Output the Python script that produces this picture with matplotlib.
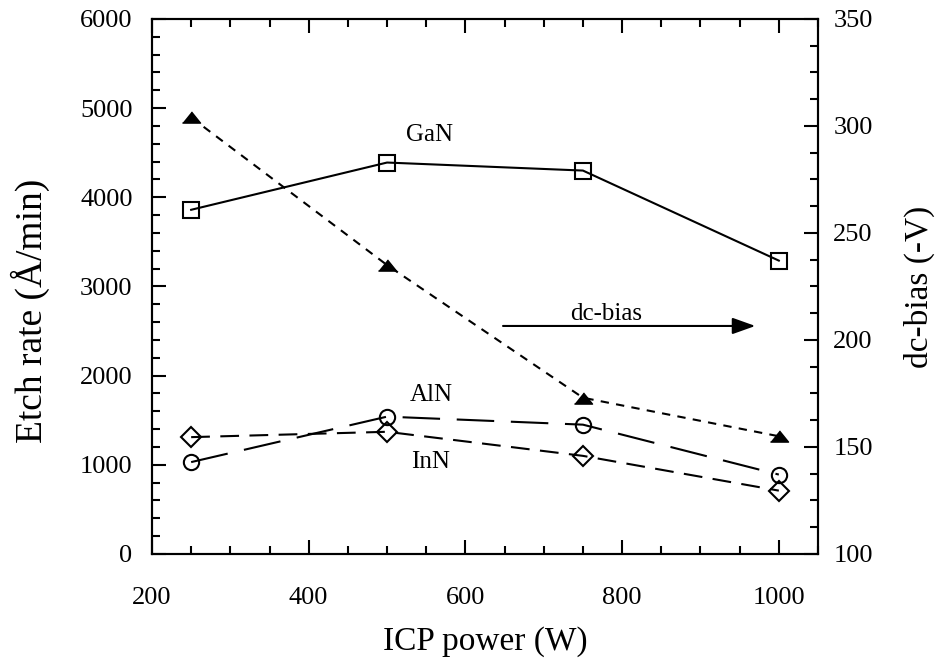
import matplotlib.pyplot as plt
from matplotlib.ticker import MultipleLocator

# ICP power (W) and measured values
power = [250, 500, 750, 1000]
gan = [3860, 4390, 4300, 3290]
aln = [1030, 1540, 1450, 890]
inn = [1310, 1370, 1100, 710]
dc_bias = [304, 235, 173, 155]

plt.rcParams['font.family'] = ['Liberation Serif', 'DejaVu Serif']

fig = plt.figure(figsize=(9.41, 6.69), dpi=100)
ax = fig.add_axes([0.1615, 0.172, 0.7078, 0.7996])
ax2 = ax.twinx()

# flat filled triangle for the dc-bias points
tri = [(-1, -0.62), (1, -0.62), (0, 0.62)]

ax.plot(power, gan, color='k', lw=1.5, marker='s', ms=11, mfc='none', mew=1.5)
ax.plot(power, aln, color='k', lw=1.5, dashes=(18, 8), marker='o', ms=11, mfc='none', mew=1.5)
ax.plot(power, inn, color='k', lw=1.5, dashes=(9, 5), marker='D', ms=10.5, mfc='none', mew=1.5)
ax2.plot(power, dc_bias, color='k', lw=1.5, dashes=(4, 3.5), marker=tri, ms=13, mfc='k', mec='k')

ax.set_xlim(200, 1050)
ax.set_ylim(0, 6000)
ax2.set_ylim(100, 350)

ax.xaxis.set_major_locator(MultipleLocator(200))
ax.xaxis.set_minor_locator(MultipleLocator(50))
ax.yaxis.set_major_locator(MultipleLocator(1000))
ax.yaxis.set_minor_locator(MultipleLocator(200))
ax2.yaxis.set_major_locator(MultipleLocator(50))
ax2.yaxis.set_minor_locator(MultipleLocator(12.5))

ax.tick_params(which='both', direction='in', top=True, right=False, width=1.5, labelsize=19)
ax.tick_params(which='major', length=10)
ax.tick_params(which='minor', length=6)
ax.tick_params(axis='x', pad=24)
ax.tick_params(axis='y', pad=14)
ax2.tick_params(which='both', direction='in', width=1.5, labelsize=19, pad=11)
ax2.tick_params(which='major', length=10)
ax2.tick_params(which='minor', length=6)

for a in (ax, ax2):
    for s in a.spines.values():
        s.set_linewidth(1.5)

ax.set_xlabel('ICP power (W)', fontsize=24, labelpad=12)
ax.set_ylabel('Etch rate (Å/min)', fontsize=27)
ax.yaxis.set_label_coords(-0.153, 0.454)
ax2.set_ylabel('dc-bias (-V)', fontsize=24, labelpad=22)

ax.text(554, 4700, 'GaN', fontsize=18, ha='center', va='center')
ax.text(556, 1783, 'AlN', fontsize=18, ha='center', va='center')
ax.text(555, 1030, 'InN', fontsize=18, ha='center', va='center')
ax.text(780, 2690, 'dc-bias', fontsize=18, ha='center', va='center')
ax.annotate('', xy=(970, 2557), xytext=(648, 2557),
            arrowprops=dict(arrowstyle='-|>,head_length=1.4,head_width=0.5',
                            color='k', lw=1.5, shrinkA=0, shrinkB=0))

fig.savefig('out.png', dpi=100)
